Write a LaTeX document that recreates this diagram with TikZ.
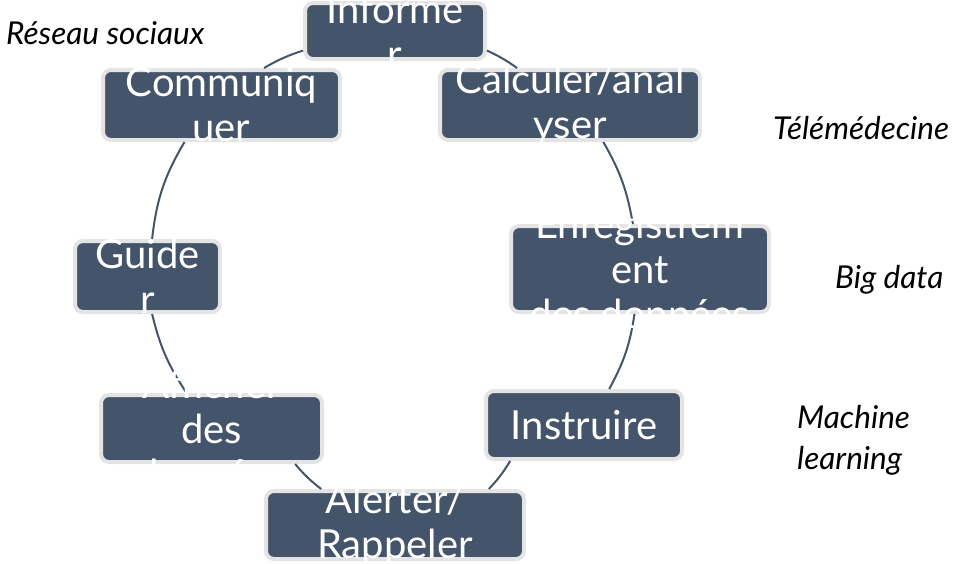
\documentclass[tikz,border=0pt]{standalone}
\usepackage{fontspec}
\setmainfont{Lato}
\definecolor{boxfill}{HTML}{44546A}
\definecolor{boxedge}{HTML}{E4E4E4}
\definecolor{ringcol}{HTML}{44546A}
\begin{document}
\begin{tikzpicture}[x=1pt,y=1pt,
  boxnode/.style={draw=boxedge, line width=4pt, fill=boxfill, rounded corners=8pt, inner sep=0pt},
  boxtext/.style={text=white, align=center, inner sep=0pt, font=\fontsize{40}{45}\selectfont},
  ring/.style={draw=ringcol, line width=2pt},
  sidelabel/.style={inner sep=0pt, align=left, font=\fontsize{31.5}{40}\selectfont\itshape}]
\useasboundingbox (0,0) rectangle (955,-563);
% boxes
\node[boxnode, minimum width=180, minimum height=56] (inf) at (395,-31) {};
\node[boxnode, minimum width=260, minimum height=70] (cal) at (570,-105) {};
\node[boxnode, minimum width=258, minimum height=86] (enr) at (640,-269) {};
\node[boxnode, minimum width=196, minimum height=68] (ins) at (584,-425) {};
\node[boxnode, minimum width=258, minimum height=68] (ale) at (395,-525) {};
\node[boxnode, minimum width=221, minimum height=67] (aff) at (211.5,-428.5) {};
\node[boxnode, minimum width=145, minimum height=71] (gui) at (147.5,-276.5) {};
\node[boxnode, minimum width=237, minimum height=70] (com) at (221.5,-105) {};
% cycle arcs
\draw[ring] (inf.-12) to[bend left=5] (cal.145);
\draw[ring] (cal.-48) to[bend left=10] (enr.99);
\draw[ring] (enr.-97) to[bend left=10] (ins.55);
\draw[ring] (ins.-154) to[bend left=6] (ale.21);
\draw[ring] (ale.154) to[bend left=6] (aff.-23);
\draw[ring] (aff.125) to[bend left=10] (gui.-83);
\draw[ring] (gui.83) to[bend left=12] (com.-135);
\draw[ring] (com.41) to[bend left=6] (inf.-168);
% texts
\node[boxtext] (inft) at (inf) {Informe\\r};
\node[boxtext] (calt) at (cal) {Calculer/anal\\yser};
\node[boxtext] (enrt) at (enr) {Enregistrem\\ent\\des données};
\node[boxtext] (inst) at (ins) {Instruire};
\node[boxtext] (alet) at (ale) {Alerter/\\Rappeler};
\node[boxtext] (afft) at (aff) {Afficher\\des\\données};
\node[boxtext] (guit) at (gui) {Guide\\r};
\node[boxtext] (comt) at (com) {Communiq\\uer};
% side labels
\node[sidelabel, anchor=base west] (res) at (6,-44) {Réseau sociaux};
\node[sidelabel, anchor=base west] (tel) at (773,-139) {Télémédecine};
\node[sidelabel, anchor=base west] (big) at (835,-288) {Big data};
\node[sidelabel, anchor=base west] (mac) at (797,-428) {Machine};
\node[sidelabel, anchor=base west] (lea) at (797,-469) {learning};
\end{tikzpicture}
\end{document}
